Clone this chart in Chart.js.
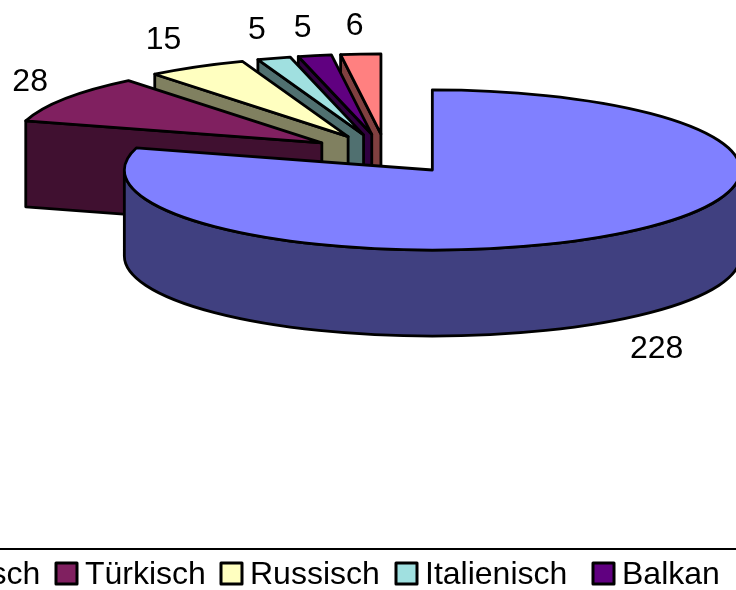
<!DOCTYPE html>
<html>
<head>
<meta charset="utf-8">
<title>Sprachen</title>
<script src="https://cdn.jsdelivr.net/npm/chart.js@4"></script>
<style>
	html, body { margin: 0; padding: 0; background: #fff; overflow: hidden; }
	#wrap { position: absolute; left: 0; top: 0; width: 736px; height: 590px; overflow: hidden; }
	canvas { display: block; }
</style>
</head>
<body>
<div id="wrap"><canvas id="grafico" width="772" height="590"></canvas></div>
<script>
const sprachen = ["Deutsch", "Türkisch", "Russisch", "Italienisch", "Balkan", "Sonstige"];
const anzahl = [228, 28, 15, 5, 5, 6];

const farben = ["#8080ff", "#802060", "#ffffc0", "#a0e0e0", "#600080", "#ff8080"];
const farbenSeite = ["#404080", "#401030", "#808060", "#507070", "#300040", "#804040"];

// linke Kante der Legendenkästchen
const legendeX = [-107, 55, 220, 395, 592, 738];
// Abstand der Zahlen vom Rand des Stücks
const zahlenVersatz = [[39, 29], [-35, -17], [-33, -27], [-17, -28], [-12, -27], [-6, -28]];

const neigung = 0.26; // Höhe/Breite der Ellipse
const tiefe = 86;
const explosion = 0.25;
const schrift = "32px 'Liberation Sans', Arial, sans-serif";

function zeichneStueck(ctx, arc, farbe, farbeSeite) {
	const rx = arc.outerRadius;
	const ry = rx * neigung;
	const a0 = arc.startAngle;
	const a1 = arc.endAngle;
	const mitte = (a0 + a1) / 2;
	const x = arc.x + Math.cos(mitte) * rx * explosion;
	const y = arc.y + Math.sin(mitte) * ry * explosion;

	ctx.lineWidth = 2.8;
	ctx.lineJoin = "round";
	ctx.strokeStyle = "#000";

	const flaeche = (winkel) => {
		const px = x + Math.cos(winkel) * rx;
		const py = y + Math.sin(winkel) * ry;
		ctx.beginPath();
		ctx.moveTo(x, y);
		ctx.lineTo(px, py);
		ctx.lineTo(px, py + tiefe);
		ctx.lineTo(x, y + tiefe);
		ctx.closePath();
		ctx.fillStyle = farbeSeite;
		ctx.fill();
		ctx.stroke();
	};

	// Schnittflächen, nur wenn sie nach vorne zeigen
	if (Math.cos(a0) < -1e-6) flaeche(a0);
	if (Math.cos(a1) > 1e-6) flaeche(a1);

	// Außenwand, vorderer Teil des Bogens
	const von = Math.max(a0, 0);
	const bis = Math.min(a1, Math.PI);
	if (von < bis) {
		ctx.beginPath();
		ctx.ellipse(x, y, rx, ry, 0, von, bis);
		ctx.ellipse(x, y + tiefe, rx, ry, 0, bis, von, true);
		ctx.closePath();
		ctx.fillStyle = farbeSeite;
		ctx.fill();
		ctx.stroke();
	}

	// Deckfläche
	ctx.beginPath();
	ctx.moveTo(x, y);
	ctx.ellipse(x, y, rx, ry, 0, a0, a1);
	ctx.closePath();
	ctx.fillStyle = farbe;
	ctx.fill();
	ctx.stroke();
}

function zeichneZahl(ctx, arc, wert, versatz) {
	const rx = arc.outerRadius;
	const ry = rx * neigung;
	const mitte = (arc.startAngle + arc.endAngle) / 2;
	const faktor = 1 + explosion;
	const vorne = Math.sin(mitte) > 0 ? tiefe : 0;
	const x = arc.x + Math.cos(mitte) * rx * faktor + versatz[0];
	const y = arc.y + Math.sin(mitte) * ry * faktor + vorne + versatz[1];
	ctx.fillStyle = "#000";
	ctx.font = schrift;
	ctx.textAlign = "center";
	ctx.textBaseline = "middle";
	ctx.fillText(String(wert), x, y);
}

function zeichneLegende(ctx) {
	ctx.fillStyle = "#000";
	ctx.fillRect(0, 548, 772, 2);
	ctx.font = schrift;
	ctx.textAlign = "left";
	ctx.textBaseline = "alphabetic";
	for (let i = 0; i < sprachen.length; i++) {
		ctx.fillStyle = farben[i];
		ctx.strokeStyle = "#000";
		ctx.lineWidth = 3;
		ctx.fillRect(legendeX[i] + 1, 563, 21, 21);
		ctx.strokeRect(legendeX[i] + 1, 563, 21, 21);
		ctx.fillStyle = "#000";
		ctx.fillText(sprachen[i], legendeX[i] + 30, 584);
	}
}

// Chart.js kennt keine 3D-Torte: Winkel und Radius kommen vom Controller, gezeichnet wird hier
const torte3d = {
	id: "torte3d",
	beforeDatasetsDraw(chart) {
		const ctx = chart.ctx;
		const arcs = chart.getDatasetMeta(0).data;
		ctx.save();
		// von hinten nach vorne: jedes Stück verdeckt die Schnittfläche des nächsten
		for (let i = arcs.length - 1; i >= 0; i--) {
			zeichneStueck(ctx, arcs[i], farben[i], farbenSeite[i]);
		}
		for (let i = 0; i < arcs.length; i++) {
			zeichneZahl(ctx, arcs[i], anzahl[i], zahlenVersatz[i]);
		}
		zeichneLegende(ctx);
		ctx.restore();
		return false;
	},
};

new Chart(document.getElementById("grafico"), {
	type: "pie",
	data: {
		labels: sprachen,
		datasets: [
			{
				data: anzahl,
				backgroundColor: farben,
				radius: 308,
			},
		],
	},
	options: {
		responsive: false,
		animation: false,
		layout: { padding: { bottom: 282 } },
		plugins: {
			legend: { display: false },
			tooltip: { enabled: false },
		},
	},
	plugins: [torte3d],
});
</script>
</body>
</html>
